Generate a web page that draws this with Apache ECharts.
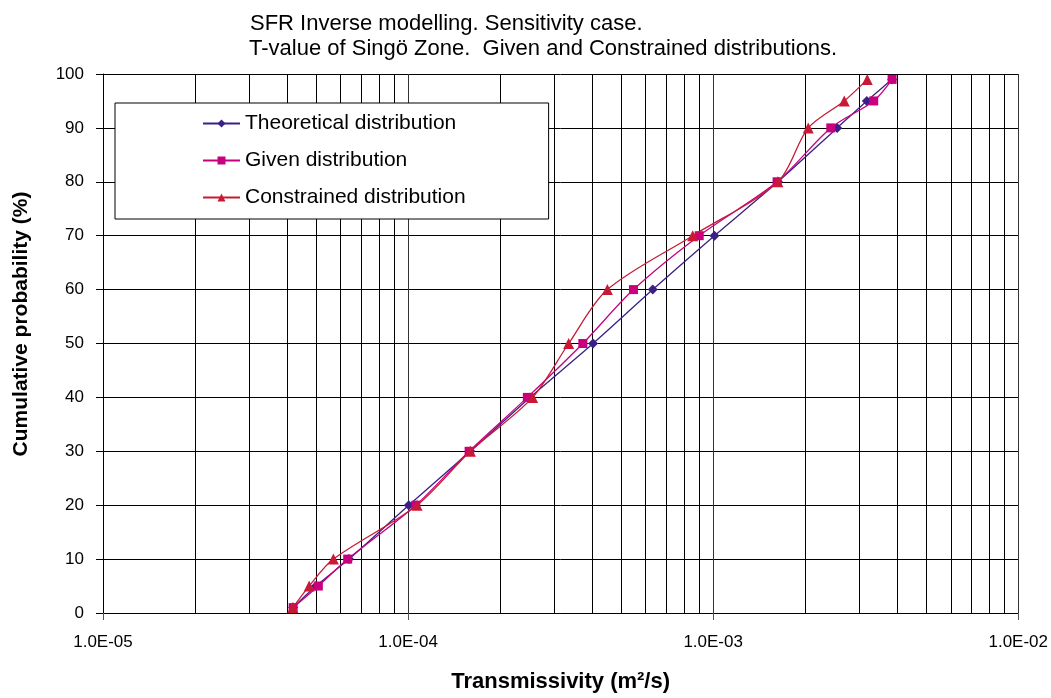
<!DOCTYPE html>
<html lang="en" style="height: 100%">
<head>
    <meta charset="utf-8">
    <title>SFR Inverse modelling</title>
    <script src="https://cdn.jsdelivr.net/npm/echarts@6/dist/echarts.min.js"></script>
</head>
<body style="height: 100%; margin: 0; background: #fff">
    <div id="main" style="width: 1051px; height: 698px"></div>
    <script type="text/javascript">
        // cumulative probability levels (%)
        var probs = [1, 5, 10, 20, 30, 40, 50, 60, 70, 80, 90, 95, 99];
        // transmissivity values (m2/s)
        var theoretical = [4.20e-5, 4.99e-5, 6.40e-5, 1.005e-4, 1.60e-4, 2.51e-4, 4.04e-4, 6.34e-4, 1.01e-3, 1.63e-3, 2.55e-3, 3.19e-3, 3.86e-3];
        var given       = [4.20e-5, 5.08e-5, 6.34e-5, 1.06e-4, 1.585e-4, 2.46e-4, 3.74e-4, 5.48e-4, 9.0e-4, 1.62e-3, 2.43e-3, 3.36e-3, 3.86e-3];
        var constrained = [4.19e-5, 4.74e-5, 5.69e-5, 1.07e-4, 1.60e-4, 2.56e-4, 3.36e-4, 4.50e-4, 8.57e-4, 1.63e-3, 2.05e-3, 2.69e-3, 3.20e-3];
        // minor log grid lines (2..9 x 10^k)
        var minorGrid = [];
        [1e-5, 1e-4, 1e-3].forEach(function (d) {
            for (var k = 2; k <= 9; k++) minorGrid.push(+(k * d).toPrecision(3));
        });

        var font = 'Liberation Sans, Arial, sans-serif';

        function pairs(xs) {
            return xs.map(function (x, i) { return [x, probs[i]]; });
        }

        function sciLabel(v) {
            var parts = v.toExponential(1).split('e');
            var ex = parseInt(parts[1], 10);
            var s = ex < 0 ? '-' : '+';
            var a = Math.abs(ex);
            return parts[0] + 'E' + s + (a < 10 ? '0' + a : a);
        }

        var myChart = echarts.init(document.getElementById('main'));

        var option = {
            backgroundColor: '#fff',
            animation: false,
            textStyle: { fontFamily: font, color: '#000' },
            title: [
                { text: 'SFR Inverse modelling. Sensitivity case.', left: 250, top: 13, padding: 0,
                  textStyle: { fontFamily: font, fontSize: 22, fontWeight: 'normal', color: '#000' } },
                { text: 'T-value of Singö Zone.  Given and Constrained distributions.', left: 249, top: 38, padding: 0,
                  textStyle: { fontFamily: font, fontSize: 22, fontWeight: 'normal', color: '#000' } }
            ],
            graphic: [
                {
                    type: 'text',
                    x: 21,
                    y: 324,
                    rotation: Math.PI / 2,
                    style: {
                        text: 'Cumulative probability (%)',
                        font: 'bold 21px ' + font,
                        fill: '#000',
                        align: 'center',
                        verticalAlign: 'middle'
                    }
                }
            ],
            legend: {
                orient: 'vertical',
                left: 115,
                top: 103,
                padding: [10, 83, 11, 87],
                itemGap: 16,
                itemWidth: 37,
                itemHeight: 10,
                backgroundColor: '#fff',
                borderColor: '#000',
                borderWidth: 1,
                borderRadius: 0,
                z: 10,
                data: ['Theoretical distribution', 'Given distribution', 'Constrained distribution'],
                textStyle: { fontFamily: font, fontSize: 21, color: '#000' }
            },
            grid: { left: 103, right: 32, top: 74, bottom: 84, containLabel: false },
            xAxis: {
                type: 'log',
                logBase: 10,
                min: 1e-5,
                max: 1e-2,
                name: 'Transmissivity (m²/s)',
                nameLocation: 'middle',
                nameGap: 58,
                nameTextStyle: { fontFamily: font, fontSize: 22, fontWeight: 'bold', color: '#000' },
                axisLine: { lineStyle: { color: '#000', width: 1 } },
                axisTick: { show: true, inside: false, length: 7, lineStyle: { color: '#555' } },
                axisLabel: { fontFamily: font, fontSize: 17, color: '#000', margin: 21, formatter: sciLabel },
                splitLine: { show: true, lineStyle: { color: '#333', width: 1 } }
            },
            yAxis: {
                type: 'value',
                min: 0,
                max: 100,
                interval: 10,
                axisLine: { show: true, lineStyle: { color: '#000', width: 1 } },
                axisTick: { show: true, inside: false, length: 7, lineStyle: { color: '#000' } },
                axisLabel: { fontFamily: font, fontSize: 17, color: '#000', margin: 19 },
                splitLine: { show: true, lineStyle: { color: '#000', width: 1 } }
            },
            series: [
                {
                    // vertical grid lines at 2..9 x 10^k, placed by the log axis
                    name: 'minor grid',
                    type: 'custom',
                    silent: true,
                    z: 1,
                    data: minorGrid.map(function (v) { return [v, 0]; }),
                    renderItem: function (params, api) {
                        var p0 = api.coord([api.value(0), 0]);
                        var p1 = api.coord([api.value(0), 100]);
                        var x = Math.round(p0[0]) + 0.5;
                        return {
                            type: 'line',
                            shape: { x1: x, y1: p0[1], x2: x, y2: p1[1] },
                            style: { stroke: '#000', lineWidth: 1 }
                        };
                    }
                },
                {
                    name: 'Theoretical distribution',
                    type: 'line',
                    z: 3,
                    smooth: 0.3,
                    symbol: 'diamond',
                    symbolSize: 10,
                    color: '#3a2086',
                    lineStyle: { width: 1.3 },
                    data: pairs(theoretical)
                },
                {
                    name: 'Given distribution',
                    type: 'line',
                    z: 4,
                    smooth: 0.3,
                    symbol: 'rect',
                    symbolSize: 9,
                    color: '#c8007e',
                    lineStyle: { width: 1.3 },
                    data: pairs(given)
                },
                {
                    name: 'Constrained distribution',
                    type: 'line',
                    z: 5,
                    smooth: 0.3,
                    symbol: 'triangle',
                    symbolSize: 11,
                    color: '#c81a36',
                    lineStyle: { width: 1.3 },
                    data: pairs(constrained)
                }
            ]
        };

        myChart.setOption(option);
    </script>
</body>
</html>
